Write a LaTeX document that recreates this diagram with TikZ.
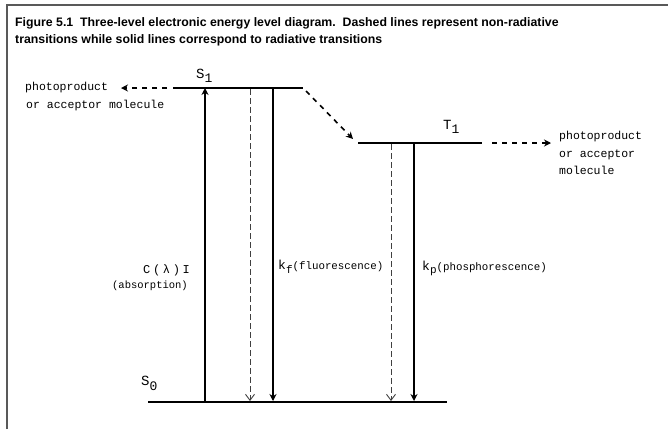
\documentclass[tikz,border=0pt]{standalone}
\usepackage{fontspec}
\setmainfont{Liberation Sans}
\newfontfamily\monof{Liberation Mono}
\newfontfamily\monospaced[LetterSpace=22]{Liberation Mono}
\usetikzlibrary{arrows.meta}
\begin{document}
\begin{tikzpicture}[x=1pt,y=-1pt,
  levelline/.style={line width=2pt},
  radarrow/.style={line width=2pt,-{Stealth[length=7pt,width=7pt]}},
  nonradline/.style={line width=0.9pt,draw=black!75,dash pattern=on 6pt off 3pt,-{Straight Barb[length=6pt,width=9pt]}},
  nonradarrow/.style={line width=1.6pt,dash pattern=on 5pt off 5pt,-{Stealth[length=7pt,width=7pt]}},
  lbl/.style={font=\monof\fontsize{11.5}{17.5}\selectfont, inner sep=0pt, align=left},
  small/.style={font=\monof\fontsize{10.5}{12}\selectfont, inner sep=0pt},
  title/.style={font=\bfseries\fontsize{12.3}{14}\selectfont, inner sep=0pt, anchor=west},
  statelbl/.style={font=\monof\fontsize{14}{14}\selectfont, inner sep=0pt, anchor=west}]
\useasboundingbox (0,0) rectangle (668,429);
\fill[white] (0,0) rectangle (668,429);
\draw[black!65, line width=1.5pt] (7,429) -- (7,5) -- (668,5);

% title
\node[title] (t1) at (15,23) {Figure 5.1\ \ Three-level electronic energy level diagram.\ \ Dashed lines represent non-radiative};
\node[title] (t2) at (15,40) {transitions while solid lines correspond to radiative transitions};

% levels
\coordinate (S1a) at (173,88);  \coordinate (S1b) at (303,88);
\coordinate (T1a) at (358,143); \coordinate (T1b) at (482,143);
\coordinate (S0a) at (148,402); \coordinate (S0b) at (447,402);
\draw[levelline] (S1a) -- (S1b);
\draw[levelline] (T1a) -- (T1b);
\draw[levelline] (S0a) -- (S0b);

% state labels
\node[statelbl] (lS1) at (196,76) {S\raisebox{-4pt}{\fontsize{13}{13}\selectfont 1}};
\node[statelbl] (lT1) at (443,127) {T\raisebox{-4pt}{\fontsize{13}{13}\selectfont 1}};
\node[statelbl] (lS0) at (141,383) {S\raisebox{-5pt}{\fontsize{13}{13}\selectfont 0}};

% transition endpoints
\coordinate (absB) at (205,402); \coordinate (absT) at (205,88);
\coordinate (icT) at (250,89);   \coordinate (icB) at (250,401);
\coordinate (flT) at (273,89);   \coordinate (flB) at (273,401);
\coordinate (iscT) at (391,144); \coordinate (iscB) at (391,401);
\coordinate (phT) at (414,144);  \coordinate (phB) at (414,401);
\coordinate (diagA) at (306,91); \coordinate (diagB) at (353,139);
\coordinate (rA) at (492,143);   \coordinate (rB) at (551,143);
\coordinate (lA) at (167,88);    \coordinate (lB) at (121,88);

\draw[radarrow] (absB) -- (absT);
\draw[nonradline] (icT) -- (icB);
\draw[radarrow] (flT) -- (flB);
\draw[nonradline] (iscT) -- (iscB);
\draw[radarrow] (phT) -- (phB);
\draw[nonradarrow] (diagA) -- (diagB);
\draw[nonradarrow] (rA) -- (rB);
\draw[nonradarrow] (lA) -- (lB);

% side labels
\node[lbl, anchor=north west] (pl) at (25,82) {photoproduct\\\hspace*{1pt}or acceptor molecule};
\node[lbl, anchor=north west] (pr) at (559,131) {photoproduct\\or acceptor\\molecule};

% rate labels
\node[font=\monospaced\fontsize{12}{12}\selectfont, inner sep=0pt, anchor=east] (cl) at (190,270) {C(λ)I};
\node[small, anchor=east] (ab) at (188,286) {(absorption)};
\node[inner sep=0pt, anchor=west] (kf) at (278,267) {{\monof\fontsize{13}{13}\selectfont k}\raisebox{-4pt}{\monof\fontsize{11}{11}\selectfont f}{\monof\fontsize{10.8}{12}\selectfont (fluorescence)}};
\node[inner sep=0pt, anchor=west] (kp) at (422,268) {{\monof\fontsize{13}{13}\selectfont k}\raisebox{-3pt}{\monof\fontsize{11}{11}\selectfont p}{\monof\fontsize{10.8}{12}\selectfont (phosphorescence)}};
\end{tikzpicture}
\end{document}
